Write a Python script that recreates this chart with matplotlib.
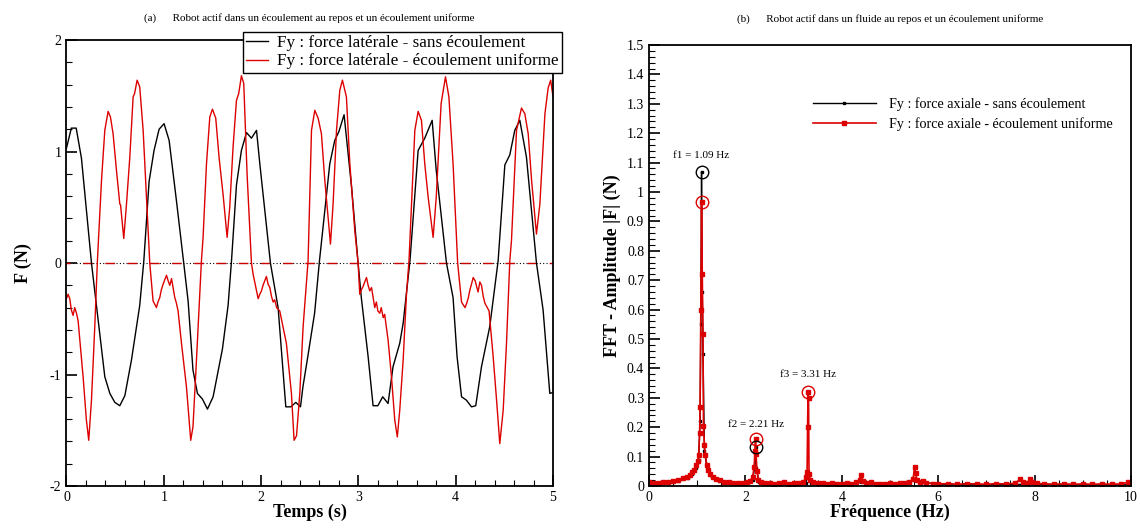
import numpy as np
import matplotlib
matplotlib.use("Agg")
from matplotlib import pyplot as plt
from matplotlib.ticker import MultipleLocator

plt.rcParams['font.family'] = ['Liberation Serif', 'DejaVu Serif']
plt.rcParams['axes.unicode_minus'] = False

# (a) force laterale - sans ecoulement
t_sans = [0.0, 0.05, 0.10, 0.154, 0.257, 0.394, 0.446, 0.497, 0.548, 0.60, 0.668, 0.753, 0.795,
          0.849, 0.90, 0.952, 1.003, 1.055, 1.13, 1.205, 1.25, 1.30, 1.346, 1.397, 1.449, 1.507,
          1.603, 1.661, 1.696, 1.747, 1.798, 1.85, 1.901, 1.953, 1.987, 2.096, 2.175, 2.254, 2.305,
          2.357, 2.405, 2.43, 2.48, 2.55, 2.60, 2.706, 2.757, 2.80, 2.853, 2.93, 2.997, 3.03, 3.10,
          3.151, 3.20, 3.25, 3.305, 3.356, 3.425, 3.46, 3.53, 3.614, 3.682, 3.758, 3.80, 3.905,
          3.973, 4.014, 4.06, 4.11, 4.162, 4.206, 4.265, 4.35, 4.436, 4.505, 4.556, 4.607, 4.659,
          4.727, 4.83, 4.898, 4.967, 5.0]
f_sans = [1.03, 1.21, 1.21, 0.94, 0.0, -1.02, -1.17, -1.25, -1.28, -1.19, -0.87, -0.38, 0.02,
          0.73, 1.01, 1.20, 1.25, 1.10, 0.56, 0.0, -0.34, -0.96, -1.17, -1.22, -1.31, -1.20,
          -0.77, -0.38, 0.02, 0.70, 1.01, 1.17, 1.12, 1.19, 0.89, 0.0, -0.40, -1.29, -1.29,
          -1.25, -1.29, -1.11, -0.84, -0.45, 0.02, 0.89, 1.10, 1.18, 1.33, 0.68, 0.0, -0.31, -0.84,
          -1.28, -1.28, -1.20, -1.26, -0.93, -0.72, -0.54, 0.02, 1.01, 1.12, 1.28, 0.83, 0.0,
          -0.31, -0.84, -1.20, -1.23, -1.29, -1.28, -0.93, -0.57, 0.02, 0.88, 0.97, 1.19, 1.28,
          0.95, 0.0, -0.42, -1.17, -1.16]

# (a) force laterale - ecoulement uniforme
t_unif = [0.0, 0.017, 0.034, 0.05, 0.068, 0.085, 0.103, 0.12, 0.137, 0.171, 0.205, 0.229, 0.257,
          0.291, 0.318, 0.36, 0.394, 0.428, 0.452, 0.479, 0.514, 0.548, 0.556, 0.565, 0.589,
          0.617, 0.651, 0.685, 0.70, 0.726, 0.753, 0.788, 0.822, 0.856, 0.89, 0.925, 0.94, 0.959,
          0.975, 0.993, 1.01, 1.028, 1.045, 1.062, 1.08, 1.095, 1.113, 1.13, 1.147, 1.182,
          1.233, 1.277, 1.30, 1.336, 1.37, 1.387, 1.404, 1.439, 1.473, 1.50, 1.534, 1.568,
          1.61, 1.651, 1.678, 1.712, 1.747, 1.77, 1.798, 1.822, 1.856, 1.901, 1.918, 1.97,
          1.987, 2.004, 2.02, 2.038, 2.055, 2.072, 2.09, 2.107, 2.124, 2.14, 2.16, 2.192, 2.26,
          2.312, 2.339, 2.364, 2.398, 2.432, 2.483, 2.518, 2.552, 2.586, 2.62, 2.655, 2.689,
          2.713, 2.74, 2.775, 2.809, 2.836, 2.877, 2.912, 2.963, 2.997, 3.014, 3.031, 3.048,
          3.065, 3.083, 3.10, 3.117, 3.135, 3.168, 3.185, 3.20, 3.22, 3.235, 3.255, 3.27,
          3.305, 3.34, 3.374, 3.40, 3.425, 3.46, 3.494, 3.52, 3.58, 3.614, 3.648, 3.682,
          3.717, 3.768, 3.80, 3.85, 3.895, 3.93, 3.973, 4.02, 4.06, 4.096, 4.113, 4.13,
          4.146, 4.162, 4.18, 4.20, 4.215, 4.23, 4.248, 4.265, 4.283, 4.30, 4.343, 4.385,
          4.42, 4.453, 4.488, 4.522, 4.556, 4.573, 4.625, 4.676, 4.71, 4.745, 4.78, 4.83,
          4.865, 4.917, 4.95, 4.976, 5.0]
f_unif = [-0.32, -0.28, -0.32, -0.42, -0.47, -0.40, -0.45, -0.52, -0.69, -1.02, -1.41, -1.59,
          -1.23, -0.57, 0.02, 0.74, 1.19, 1.36, 1.31, 1.16, 0.83, 0.53, 0.52, 0.44, 0.22,
          0.53, 0.95, 1.49, 1.52, 1.64, 1.58, 1.19, 0.59, 0.0, -0.34, -0.40, -0.35, -0.31,
          -0.24, -0.19, -0.15, -0.11, -0.16, -0.20, -0.14, -0.22, -0.31, -0.36, -0.43, -0.72,
          -1.11, -1.59, -1.47, -0.87, -0.28, 0.02, 0.23, 0.89, 1.31, 1.38, 1.30, 0.95,
          0.61, 0.23, 0.50, 1.04, 1.46, 1.52, 1.68, 1.61, 0.80, 0.0, -0.10, -0.32,
          -0.28, -0.25, -0.20, -0.16, -0.12, -0.19, -0.22, -0.30, -0.35, -0.33, -0.40, -0.43, -0.72,
          -1.17, -1.59, -1.55, -1.17, -0.57, 0.02, 1.19, 1.37, 1.30, 1.16, 0.74, 0.41,
          0.17, 0.53, 1.19, 1.55, 1.64, 1.49, 0.89, 0.29, 0.0, -0.28, -0.24, -0.21,
          -0.17, -0.13, -0.20, -0.25, -0.22, -0.40, -0.35, -0.43, -0.45, -0.40, -0.49, -0.46,
          -0.69, -1.02, -1.41, -1.56, -1.32, -0.87, -0.28, 0.02, 1.19, 1.36, 1.28, 0.89,
          0.59, 0.23, 0.59, 1.43, 1.67, 1.49, 0.89, 0.0, -0.35, -0.40, -0.36, -0.31,
          -0.24, -0.19, -0.13, -0.16, -0.21, -0.26, -0.17, -0.20, -0.30, -0.36, -0.43, -0.84,
          -1.23, -1.62, -1.32, -0.72, 0.02, 0.20, 1.19, 1.39, 1.34, 1.16, 0.74, 0.26,
          0.53, 1.34, 1.57, 1.64, 1.49]

# (b) FFT
freq_unif = [0.0, 0.10, 0.20, 0.30, 0.40, 0.50, 0.60, 0.70, 0.78, 0.85, 0.90, 0.94, 0.98, 1.01,
             1.03, 1.05, 1.06, 1.075, 1.09, 1.105, 1.12, 1.13, 1.15, 1.17, 1.20, 1.23, 1.27,
             1.33, 1.40, 1.48, 1.55, 1.65, 1.75, 1.85, 1.95, 2.03, 2.10, 2.15, 2.18, 2.20, 2.21,
             2.22, 2.24, 2.27, 2.32, 2.40, 2.50, 2.60, 2.70, 2.80, 2.90, 3.00, 3.10, 3.20, 3.26,
             3.28, 3.29, 3.30, 3.31, 3.32, 3.34, 3.40, 3.50, 3.60, 3.70, 3.80, 3.90, 4.00, 4.10,
             4.20, 4.30, 4.37, 4.40, 4.43, 4.50, 4.60, 4.70, 4.80, 4.90, 5.00, 5.10, 5.20, 5.30,
             5.40, 5.48, 5.51, 5.53, 5.56, 5.62, 5.69, 5.75, 5.90, 6.00, 6.20, 6.40, 6.60, 6.80,
             7.00, 7.20, 7.40, 7.60, 7.70, 7.75, 7.85, 7.90, 7.95, 8.05, 8.20, 8.40, 8.60, 8.80,
             9.00, 9.20, 9.40, 9.60, 9.80, 9.94, 10.0]
amp_unif = [0.012, 0.010, 0.011, 0.012, 0.014, 0.017, 0.021, 0.026, 0.031, 0.038, 0.047, 0.056,
            0.072, 0.085, 0.105, 0.18, 0.268, 0.60, 0.967, 0.72, 0.517, 0.204, 0.14, 0.105,
            0.071, 0.054, 0.042, 0.032, 0.024, 0.019, 0.015, 0.013, 0.011, 0.010, 0.011, 0.013,
            0.018, 0.030, 0.064, 0.12, 0.16, 0.11, 0.05, 0.022, 0.012, 0.009, 0.010, 0.008,
            0.009, 0.012, 0.008, 0.009, 0.010, 0.013, 0.030, 0.049, 0.20, 0.319, 0.30, 0.04,
            0.022, 0.012, 0.009, 0.010, 0.008, 0.009, 0.007, 0.008, 0.009, 0.008, 0.012, 0.020,
            0.038, 0.018, 0.010, 0.013, 0.008, 0.007, 0.008, 0.009, 0.008, 0.009, 0.010, 0.012,
            0.025, 0.065, 0.045, 0.020, 0.012, 0.017, 0.010, 0.008, 0.007, 0.008, 0.006, 0.008,
            0.007, 0.006, 0.008, 0.007, 0.009, 0.024, 0.012, 0.010, 0.024, 0.012, 0.009, 0.007,
            0.006, 0.007, 0.006, 0.007, 0.006, 0.007, 0.006, 0.007, 0.013, 0.008]
freq_sans = [0.0, 0.20, 0.40, 0.60, 0.80, 0.90, 0.98, 1.03, 1.06, 1.075, 1.09, 1.105, 1.12,
             1.15, 1.20, 1.30, 1.45, 1.70, 2.00, 2.15, 2.19, 2.21, 2.23, 2.28, 2.50, 3.00,
             3.25, 3.31, 3.36, 3.70, 4.40, 5.00, 5.51, 6.00, 7.00, 8.00, 9.00, 10.0]
amp_sans = [0.008, 0.009, 0.012, 0.018, 0.028, 0.040, 0.060, 0.09, 0.22, 0.55, 1.069, 0.66,
            0.45, 0.12, 0.065, 0.030, 0.016, 0.010, 0.008, 0.020, 0.06, 0.134, 0.06, 0.015,
            0.006, 0.005, 0.010, 0.040, 0.010, 0.005, 0.012, 0.005, 0.020, 0.004, 0.004,
            0.006, 0.004, 0.004]

peaks_sans_f = [1.09, 2.21]
peaks_sans_a = [1.069, 0.134]
peaks_unif_f = [1.09, 2.21, 3.30]
peaks_unif_a = [0.967, 0.16, 0.319]

fig = plt.figure(figsize=(11.4, 5.29), dpi=100)
ax1 = fig.add_axes([0.0583, 0.0813, 0.4268, 0.843])
ax2 = fig.add_axes([0.5693, 0.0813, 0.4228, 0.8336])

# ---- panneau (a)
ax1.axhline(0, color='k', ls=(0, (1, 2)), lw=0.8)
ax1.axhline(0, color='#cc0000', ls=(4, (7, 9)), lw=1.0)
ax1.plot(t_sans, f_sans, color='k', lw=1.0, label='Fy : force latérale - sans écoulement')
ax1.plot(t_unif, f_unif, color='#dd0000', lw=1.0, label='Fy : force latérale - écoulement uniforme')
ax1.set_xlim(0, 5)
ax1.set_ylim(-2, 2)
ax1.xaxis.set_major_locator(MultipleLocator(1))
ax1.xaxis.set_minor_locator(MultipleLocator(0.2))
ax1.yaxis.set_major_locator(MultipleLocator(1))
ax1.yaxis.set_minor_locator(MultipleLocator(0.2))
ax1.set_xlabel('Temps (s)', fontsize=13, fontweight='bold', labelpad=0)
ax1.set_ylabel('F (N)', fontsize=13, fontweight='bold', labelpad=13)
ax1.set_title('(a)      Robot actif dans un écoulement au repos et un écoulement uniforme',
              fontsize=8, pad=14)
leg1 = ax1.legend(loc='upper right', bbox_to_anchor=(1.018, 1.018), borderaxespad=0,
                  fontsize=12.3, fancybox=False, edgecolor='k', framealpha=1,
                  handlelength=1.3, handletextpad=0.5, borderpad=0.2, labelspacing=0.12)
leg1.get_frame().set_linewidth(1.0)

# ---- panneau (b)
ax2.plot(freq_sans, amp_sans, color='k', lw=1.0, marker='s', ms=2,
         label='Fy : force axiale - sans écoulement')
ax2.plot(freq_unif, amp_unif, color='#dd0000', lw=1.2, marker='s', ms=2.5,
         label='Fy : force axiale - écoulement uniforme')
ax2.plot(peaks_sans_f, peaks_sans_a, ls='none', marker='o', ms=9, mfc='none', mec='k', mew=1.0)
ax2.plot(peaks_unif_f, peaks_unif_a, ls='none', marker='o', ms=9, mfc='none', mec='#dd0000', mew=1.0)
ax2.text(1.09, 1.11, 'f1 = 1.09 Hz', fontsize=8, ha='center', va='bottom')
ax2.text(2.21, 0.195, 'f2 = 2.21 Hz', fontsize=8, ha='center', va='bottom')
ax2.text(3.30, 0.365, 'f3 = 3.31 Hz', fontsize=8, ha='center', va='bottom')
ax2.set_xlim(0, 10)
ax2.set_ylim(0, 1.5)
ax2.xaxis.set_major_locator(MultipleLocator(2))
ax2.xaxis.set_minor_locator(MultipleLocator(0.5))
ax2.yaxis.set_major_locator(MultipleLocator(0.1))
ax2.yaxis.set_minor_locator(MultipleLocator(0.02))
ax2.set_yticks(ax2.get_yticks())
ax2.set_yticklabels(['0' if abs(v) < 1e-9 else ('%g' % round(v, 1)) for v in ax2.get_yticks()])
ax2.set_ylim(0, 1.5)
ax2.set_xlabel('Fréquence (Hz)', fontsize=13, fontweight='bold', labelpad=0)
ax2.set_ylabel('FFT - Amplitude |F| (N)', fontsize=13, fontweight='bold', labelpad=4)
ax2.set_title('(b)      Robot actif dans un fluide au repos et un écoulement uniforme',
              fontsize=8, pad=17)
ax2.legend(loc='upper left', bbox_to_anchor=(0.313, 0.91), frameon=False, fontsize=10.2,
           handlelength=4.5, handletextpad=0.9, labelspacing=0.45, markerscale=1.0)

for ax in (ax1, ax2):
    ax.tick_params(which='major', direction='in', length=8, width=1.2, labelsize=10,
                   top=False, right=False)
    ax.tick_params(which='minor', direction='in', length=4, width=0.8, top=False, right=False)
    for s in ax.spines.values():
        s.set_linewidth(1.3)

fig.savefig('out.png', dpi=100)
